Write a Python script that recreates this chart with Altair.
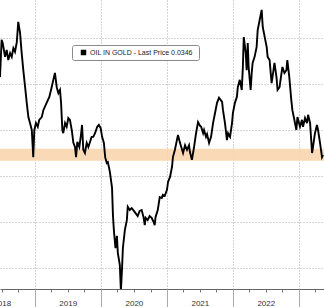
import altair as alt
import pandas as pd

dates = [
    "2018-06-21", "2018-06-30", "2018-07-06", "2018-07-19", "2018-07-28", "2018-08-06", "2018-08-16", "2018-08-25",
    "2018-09-03", "2018-09-12", "2018-09-22", "2018-09-30", "2018-10-10", "2018-10-19", "2018-10-28", "2018-11-07",
    "2018-11-16", "2018-11-25", "2018-12-04", "2018-12-14", "2018-12-22", "2018-12-28", "2019-01-06", "2019-01-16",
    "2019-01-24", "2019-02-07", "2019-02-16", "2019-03-06", "2019-03-21", "2019-04-03", "2019-04-12", "2019-04-21",
    "2019-05-01", "2019-05-10", "2019-05-19", "2019-05-25", "2019-06-01", "2019-06-06", "2019-06-16", "2019-06-25",
    "2019-07-04", "2019-07-13", "2019-07-23", "2019-08-01", "2019-08-10", "2019-08-16", "2019-08-23", "2019-09-03",
    "2019-09-12", "2019-09-18", "2019-09-25", "2019-10-04", "2019-10-14", "2019-10-23", "2019-11-01", "2019-11-10",
    "2019-11-19", "2019-11-29", "2019-12-11", "2019-12-20", "2019-12-30", "2020-01-07", "2020-01-17", "2020-01-24",
    "2020-02-02", "2020-02-08", "2020-02-19", "2020-03-02", "2020-03-07", "2020-03-12", "2020-03-21", "2020-03-29",
    "2020-04-03", "2020-04-14", "2020-04-20", "2020-04-26", "2020-05-01", "2020-05-12", "2020-05-23", "2020-05-28",
    "2020-06-08", "2020-06-19", "2020-07-05", "2020-07-22", "2020-08-02", "2020-08-13", "2020-08-24", "2020-08-30",
    "2020-09-04", "2020-09-15", "2020-09-26", "2020-10-07", "2020-10-18", "2020-10-24", "2020-10-29", "2020-11-10",
    "2020-11-21", "2020-12-02", "2020-12-08", "2020-12-19", "2020-12-31", "2021-01-06", "2021-01-17", "2021-01-28",
    "2021-02-02", "2021-02-13", "2021-02-24", "2021-03-02", "2021-03-13", "2021-03-30", "2021-04-10", "2021-04-21",
    "2021-05-02", "2021-05-07", "2021-05-18", "2021-05-30", "2021-06-10", "2021-06-21", "2021-07-02", "2021-07-08",
    "2021-07-19", "2021-07-24", "2021-08-04", "2021-08-10", "2021-08-21", "2021-09-01", "2021-09-12", "2021-09-23",
    "2021-10-04", "2021-10-15", "2021-11-01", "2021-11-06", "2021-11-17", "2021-11-28", "2021-12-04", "2021-12-15",
    "2021-12-26", "2021-12-31", "2022-01-11", "2022-01-22", "2022-01-27", "2022-02-07", "2022-02-18", "2022-02-24",
    "2022-03-01", "2022-03-12", "2022-03-17", "2022-03-23", "2022-03-28", "2022-04-08", "2022-04-14", "2022-04-19",
    "2022-04-30", "2022-05-11", "2022-05-17", "2022-05-28", "2022-06-08", "2022-06-14", "2022-06-25", "2022-07-06",
    "2022-07-11", "2022-07-22", "2022-08-02", "2022-08-07", "2022-08-18", "2022-08-29", "2022-09-04", "2022-09-15",
    "2022-09-26", "2022-10-01", "2022-10-12", "2022-10-23", "2022-10-28", "2022-11-08", "2022-11-19", "2022-11-25",
    "2022-12-06", "2022-12-17", "2022-12-23", "2023-01-06", "2023-01-17", "2023-01-23", "2023-02-03", "2023-02-14",
    "2023-02-20", "2023-03-03", "2023-03-14", "2023-03-19", "2023-03-30", "2023-04-10", "2023-04-16", "2023-04-27",
    "2023-05-08", "2023-05-14",
]

ratio = [
    0.0515, 0.0596, 0.0589, 0.0559, 0.0574, 0.0552, 0.0567, 0.0559,
    0.0578, 0.0570, 0.0591, 0.0635, 0.0611, 0.0567, 0.0530, 0.0493,
    0.0459, 0.0428, 0.0415, 0.0400, 0.0341, 0.0400, 0.0415, 0.0407,
    0.0422, 0.0428, 0.0443, 0.0459, 0.0472, 0.0493, 0.0509, 0.0524,
    0.0493, 0.0480, 0.0487, 0.0459, 0.0400, 0.0393, 0.0415, 0.0407,
    0.0426, 0.0422, 0.0400, 0.0372, 0.0363, 0.0341, 0.0374, 0.0363,
    0.0389, 0.0411, 0.0357, 0.0350, 0.0372, 0.0363, 0.0374, 0.0385,
    0.0385, 0.0393, 0.0407, 0.0411, 0.0404, 0.0385, 0.0372, 0.0341,
    0.0328, 0.0330, 0.0309, 0.0274, 0.0215, 0.0183, 0.0143, 0.0170,
    0.0133, 0.0107, 0.0050, 0.0096, 0.0143, 0.0183, 0.0204, 0.0233,
    0.0226, 0.0230, 0.0222, 0.0213, 0.0224, 0.0226, 0.0209, 0.0193,
    0.0209, 0.0204, 0.0213, 0.0209, 0.0200, 0.0193, 0.0211, 0.0226,
    0.0254, 0.0252, 0.0259, 0.0257, 0.0270, 0.0287, 0.0298, 0.0320,
    0.0341, 0.0357, 0.0378, 0.0389, 0.0372, 0.0350, 0.0367, 0.0357,
    0.0367, 0.0352, 0.0335, 0.0363, 0.0393, 0.0417, 0.0409, 0.0407,
    0.0393, 0.0400, 0.0385, 0.0391, 0.0372, 0.0385, 0.0415, 0.0437,
    0.0459, 0.0470, 0.0461, 0.0443, 0.0415, 0.0378, 0.0393, 0.0385,
    0.0415, 0.0437, 0.0459, 0.0472, 0.0493, 0.0509, 0.0487, 0.0537,
    0.0602, 0.0567, 0.0530, 0.0589, 0.0537, 0.0487, 0.0524, 0.0546,
    0.0559, 0.0580, 0.0617, 0.0639, 0.0661, 0.0624, 0.0602, 0.0580,
    0.0559, 0.0552, 0.0502, 0.0515, 0.0546, 0.0515, 0.0487, 0.0493,
    0.0524, 0.0537, 0.0524, 0.0530, 0.0552, 0.0515, 0.0465, 0.0443,
    0.0422, 0.0400, 0.0428, 0.0407, 0.0422, 0.0407, 0.0426, 0.0415,
    0.0433, 0.0415, 0.0350, 0.0363, 0.0393, 0.0411, 0.0400, 0.0372,
    0.0341, 0.0346,
]

series_name = "OIL IN GOLD  - Last Price 0.0346"

band_low = [0.0333]
band_high = [0.0359]
band_start = ["2018-06-21"]
band_end = ["2023-05-19"]

grid_values = [0.01, 0.02, 0.03, 0.04, 0.05, 0.06]
year_ticks = [2019, 2020, 2021, 2022, 2023]
quarter_ticks = [(y, m) for y in range(2018, 2024) for m in (1, 4, 7, 10)
                 if (y, m) >= (2018, 7) and (y, m) <= (2023, 4)]

df = pd.DataFrame({"date": dates, "ratio": ratio, "series": series_name})
band_df = pd.DataFrame({"start": band_start, "end": band_end, "lo": band_low, "hi": band_high})

x_scale = alt.Scale(domain=[alt.DateTime(year=2018, month=6, date=21),
                            alt.DateTime(year=2023, month=5, date=19)])
y_scale = alt.Scale(domain=[0.00543, 0.06826], nice=False, zero=False)

quarter_axis = alt.Axis(
    orient="bottom",
    values=[alt.DateTime(year=y, month=m, date=1) for (y, m) in quarter_ticks],
    labelExpr="month(datum.value) == 6 ? timeFormat(datum.value, '%Y') : ''",
    grid=False, domain=True, domainColor="#666666", domainWidth=1,
    ticks=True, tickSize=3, tickColor="#777777",
    labelFont="Liberation Sans", labelFontSize=8, labelColor="#333333",
    labelPadding=7, labelOverlap=False, labelBound=False, labelFlush=False, title=None,
)

year_axis = alt.Axis(
    orient="bottom",
    values=[alt.DateTime(year=y, month=1, date=1) for y in year_ticks],
    labels=False, domain=False,
    ticks=True, tickSize=18, tickColor="#aaaaaa",
    grid=True, gridColor="#a8a8a8", gridDash=[1, 2], gridWidth=1, title=None,
)

y_axis = alt.Axis(
    orient="left", values=grid_values, labels=False, ticks=False, domain=False,
    grid=True, gridColor="#a8a8a8", gridDash=[1, 2], gridWidth=1, title=None,
)

band = alt.Chart(band_df).mark_rect(color="#f9d6ae", opacity=0.9).encode(
    x=alt.X("start:T", scale=x_scale, axis=quarter_axis),
    x2="end:T",
    y=alt.Y("lo:Q", scale=y_scale, axis=None),
    y2="hi:Q",
)

line = alt.Chart(df).mark_line(strokeWidth=1.9, clip=True).encode(
    x=alt.X("date:T", scale=x_scale, axis=year_axis),
    y=alt.Y("ratio:Q", scale=y_scale, axis=y_axis),
    color=alt.Color("series:N", scale=alt.Scale(range=["#000000"]),
                    legend=alt.Legend(
                        orient="none", legendX=72, legendY=45, title=None,
                        symbolType="square", symbolSize=30,
                        symbolFillColor="#000000", symbolStrokeColor="#000000",
                        symbolStrokeWidth=0,
                        labelFont="Liberation Sans", labelFontSize=7, labelColor="#222222",
                        padding=4, strokeColor="#8a8a8a", fillColor="#ffffff",
                        cornerRadius=2, symbolOffset=4, labelOffset=3,
                    )),
)

chart = alt.layer(band, line).resolve_axis(x="independent", y="independent").properties(
    width=324, height=289,
    autosize=alt.AutoSizeParams(type="none"),
    padding={"left": 0, "top": 0, "right": 0, "bottom": 18},
    background="#ffffff",
).configure_view(stroke=None)

chart.save("out.html", embed_options={"renderer": "svg", "actions": False})
